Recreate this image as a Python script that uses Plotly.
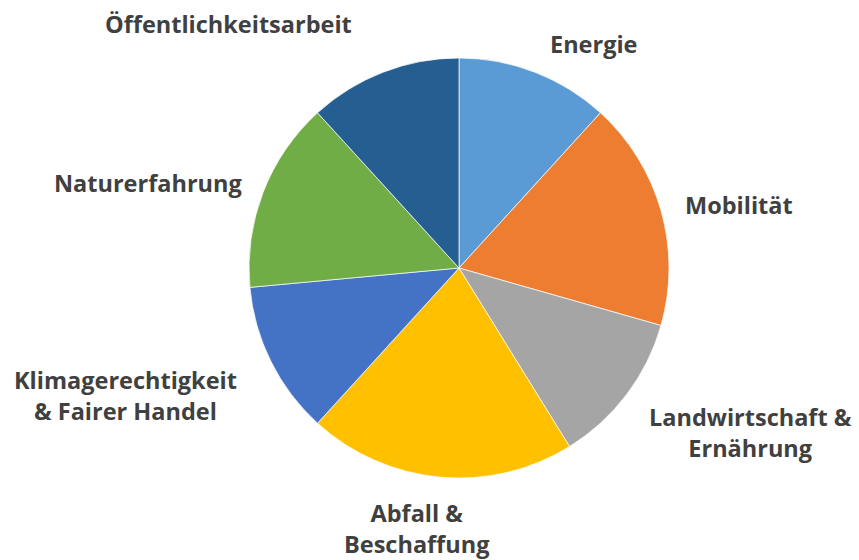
import plotly.graph_objects as go

categories = ["Energie", "Mobilität", "Landwirtschaft &<br>Ernährung", "Abfall &<br>Beschaffung",
              "Klimagerechtigkeit<br>& Fairer Handel", "Naturerfahrung", "Öffentlichkeitsarbeit"]
values = [4, 6, 4, 7, 4, 5, 4]
colors = ["#5B9BD5", "#ED7D31", "#A5A5A5", "#FFC000", "#4472C4", "#70AD47", "#255E91"]

W, H = 859, 560
cx, cy, r = 459, 268, 210

# label centres (pixels)
label_pos = [(594, 44), (739, 205), (750, 432), (416, 528), (125, 395), (148, 183), (228, 24)]

fig = go.Figure(go.Pie(
    labels=categories, values=values, sort=False, direction="clockwise", rotation=0,
    marker=dict(colors=colors, line=dict(color="white", width=0.7)),
    textinfo="none", hoverinfo="label+percent", showlegend=False,
    domain=dict(x=[(cx - r) / W, (cx + r) / W], y=[(H - cy - r) / H, (H - cy + r) / H]),
))

for lab, (px, py) in zip(categories, label_pos):
    fig.add_annotation(x=px / W, y=1 - py / H, xref="paper", yref="paper", text=lab,
                       showarrow=False, xanchor="center", yanchor="middle",
                       font=dict(family="Open Sans", size=23.5, color="#404040", weight="bold"))

fig.update_layout(width=W, height=H, margin=dict(l=0, r=0, t=0, b=0),
                  paper_bgcolor="white", plot_bgcolor="white")
fig.write_html("out.html", config={"displayModeBar": False},
               post_script="document.body.style.margin='0';")
